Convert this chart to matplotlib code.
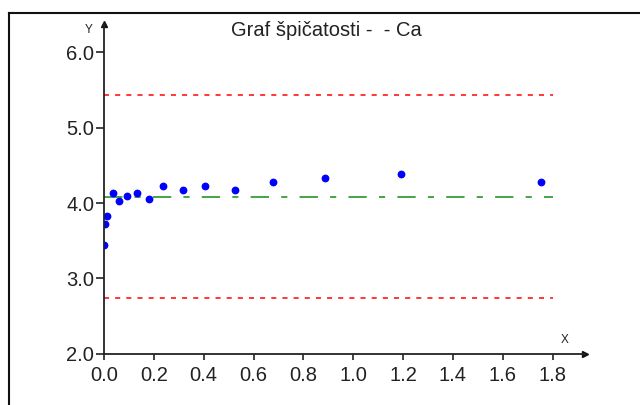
import matplotlib
matplotlib.use("Agg")
import matplotlib.pyplot as plt
from matplotlib.lines import Line2D

# data
x_vals = [0.0, 0.003, 0.013, 0.035, 0.061, 0.094, 0.134, 0.18, 0.237,
          0.318, 0.405, 0.527, 0.678, 0.888, 1.193, 1.755]
y_vals = [3.45, 3.72, 3.83, 4.14, 4.03, 4.09, 4.14, 4.06, 4.23,
          4.17, 4.23, 4.17, 4.28, 4.33, 4.38, 4.28]
mean_level = 4.08
upper_limit = 5.44
lower_limit = 2.74
line_x = [0.0, 1.8]

x_ticks = [0.0, 0.2, 0.4, 0.6, 0.8, 1.0, 1.2, 1.4, 1.6, 1.8]
y_ticks = [2.0, 3.0, 4.0, 5.0, 6.0]
title = "Graf špičatosti -  - Ca"

plt.rcParams["font.family"] = ["Liberation Sans", "DejaVu Sans"]

W, H = 640, 405
fig = plt.figure(figsize=(W / 100, H / 100), dpi=100)
ax = fig.add_axes([104 / W, 51.3 / H, 481 / W, 329.7 / H])

ax.plot(line_x, [upper_limit] * 2, color="#ff0000", lw=1.1, linestyle=(0, (3.3, 4.0)))
ax.plot(line_x, [lower_limit] * 2, color="#ff0000", lw=1.1, linestyle=(0, (3.3, 4.0)))
ax.plot(line_x, [mean_level] * 2, color="#148c14", lw=1.1,
        linestyle=(0, (12.0, 8.0, 4.0, 8.0)))
ax.plot(x_vals, y_vals, "o", color="#0000ff", ms=4.6, mec="#0000ff")

ax.set_xlim(0, 1.93)
ax.set_ylim(2.0, 6.378)
ax.set_xticks(x_ticks)
ax.set_xticklabels([f"{v:.1f}" for v in x_ticks])
ax.set_yticks(y_ticks)
ax.set_yticklabels([f"{v:.1f}" for v in y_ticks])
ax.tick_params(axis="both", labelsize=14.5, width=1.2, color="#222222",
               labelcolor="#222222")
ax.tick_params(axis="x", length=4.3, pad=4.5)
ax.tick_params(axis="y", length=5.5, pad=1.5)
ax.spines[["top", "right"]].set_visible(False)
for s in ["left", "bottom"]:
    ax.spines[s].set_linewidth(1.3)
    ax.spines[s].set_color("#222222")
ax.patch.set_visible(False)

# axis arrows
ax.plot(1, 0, marker=">", ms=5, color="#111111", transform=ax.transAxes, clip_on=False)
ax.plot(0, 1, marker="^", ms=5, color="#111111", transform=ax.transAxes, clip_on=False)

fig.text(326 / W, 1 - 30 / H, title, ha="center", va="center", fontsize=14.5, color="#222222")
fig.text(89 / W, 1 - 30 / H, "Y", ha="center", va="center", fontsize=8.5, color="#222222")
fig.text(565 / W, 1 - 340 / H, "X", ha="center", va="center", fontsize=8.5, color="#222222")

# outer frame (left and top only)
fig.add_artist(Line2D([8.5 / W, 8.5 / W], [0, 1 - 13 / H], transform=fig.transFigure,
                      color="#111111", lw=1.5))
fig.add_artist(Line2D([8.5 / W, 1], [1 - 13 / H, 1 - 13 / H], transform=fig.transFigure,
                      color="#111111", lw=1.5))

plt.savefig("out.png", dpi=100)
